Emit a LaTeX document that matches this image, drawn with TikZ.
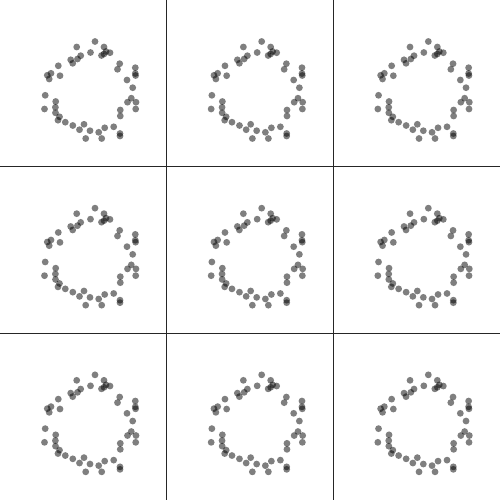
\documentclass[tikz,border=0pt]{standalone}
\usepackage{tikz}

\begin{document}
\begin{tikzpicture}[x=1pt,y=-1pt]
       \tikzstyle{blob}=[fill=black,fill opacity=0.5]
       \tikzstyle{rule}=[line width=1pt,black!85]

       \useasboundingbox (0,0) rectangle (500,500);

       \foreach \col in {0,1,2}{
         \foreach \row in {0,1,2}{
           \begin{scope}[shift={(166.667*\col,166.667*\row)}]
             \foreach \px/\py in {95/41.5, 76.7/47, 104/47, 106/51.5, 110/52.7,
                 90.5/52.5, 101.5/55.5, 104/54, 80.7/55.7, 77.5/59, 70.7/59.8,
                 72.7/63.3, 58.3/65.8, 51/73.3, 47.3/75.3, 49.2/79, 60/75.7,
                 119.7/63.7, 117.5/69.3, 135.3/67.7, 135.3/73.5, 135.6/75.5,
                 127/80, 132.7/87.7, 45.2/95.3, 44.5/109, 55.7/101.5, 55.4/107.3,
                 55.5/112.8, 59.5/116.8, 58/120.2, 65.3/122.2, 72.8/125.5,
                 79.5/129.7, 84/124.3, 90/130.7, 85.7/138.5, 98.7/132.3,
                 101.7/138.5, 104.7/127.8, 113.7/126.8, 120/133.5, 120/136,
                 120.3/110, 120.3/116, 127.5/102.2, 131.3/98.2, 136/102.2,
                 135.7/109}
               \fill[blob] (\px,\py) circle (3.4pt);
           \end{scope}
         }
       }

       \draw[rule] (166.667,0) -- (166.667,500);
       \draw[rule] (333.333,0) -- (333.333,500);
       \draw[rule] (0,166.667) -- (500,166.667);
       \draw[rule] (0,333.333) -- (500,333.333);
     \end{tikzpicture}
\end{document}
